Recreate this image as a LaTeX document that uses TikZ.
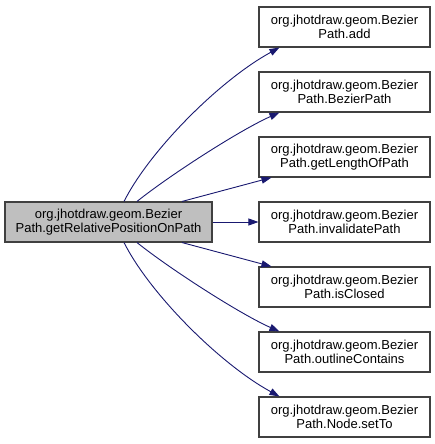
\documentclass[tikz,border=0pt]{standalone}
\usepackage{fontspec}
\setmainfont{Liberation Sans}
\usetikzlibrary{arrows.meta}
\definecolor{edgeblue}{HTML}{191970}
\definecolor{boxline}{HTML}{404040}
\definecolor{srcfill}{HTML}{BFBFBF}
\begin{document}
\begin{tikzpicture}[x=1pt, y=-1pt, every node/.style={rectangle, draw=boxline, fill=white, line width=1.1pt, minimum height=40pt, minimum width=171pt, inner sep=0pt, align=center, font=\fontsize{13}{14}\selectfont}, >={Triangle[length=10pt, width=7pt]}]
        \useasboundingbox (0, 0) rectangle (435, 444);
        \node[fill=srcfill, minimum width=207pt] (0) at (108.5, 222) {org.jhotdraw.geom.Bezier\\Path.getRelativePositionOnPath};
        \node (1) at (344.5, 27) {org.jhotdraw.geom.Bezier\\Path.add};
        \node (2) at (344.5, 92) {org.jhotdraw.geom.Bezier\\Path.BezierPath};
        \node (3) at (344.5, 157) {org.jhotdraw.geom.Bezier\\Path.getLengthOfPath};
        \node (4) at (344.5, 222) {org.jhotdraw.geom.Bezier\\Path.invalidatePath};
        \node (5) at (344.5, 287) {org.jhotdraw.geom.Bezier\\Path.isClosed};
        \node (6) at (344.5, 352) {org.jhotdraw.geom.Bezier\\Path.outlineContains};
        \node (7) at (344.5, 417) {org.jhotdraw.geom.Bezier\\Path.Node.setTo};
        \draw[->, edgeblue, line width=0.9pt] ([xshift=15.5pt]0.north) .. controls (150, 150) and (220, 80) .. ([xshift=21pt]1.south west);
        \draw[->, edgeblue, line width=0.9pt] ([xshift=28.5pt]0.north) .. controls (170, 175) and (240, 130) .. ([xshift=21pt]2.south west);
        \draw[->, edgeblue, line width=0.9pt] ([xshift=73.5pt]0.north) -- ([xshift=13pt]3.south west);
        \draw[->, edgeblue, line width=0.9pt] (0.east) -- (4.west);
        \draw[->, edgeblue, line width=0.9pt] ([xshift=73.5pt]0.south) -- ([xshift=13pt]5.north west);
        \draw[->, edgeblue, line width=0.9pt] ([xshift=28.5pt]0.south) .. controls (170, 269) and (240, 314) .. ([xshift=21pt]6.north west);
        \draw[->, edgeblue, line width=0.9pt] ([xshift=15.5pt]0.south) .. controls (150, 294) and (220, 364) .. ([xshift=21pt]7.north west);
    \end{tikzpicture}
\end{document}
